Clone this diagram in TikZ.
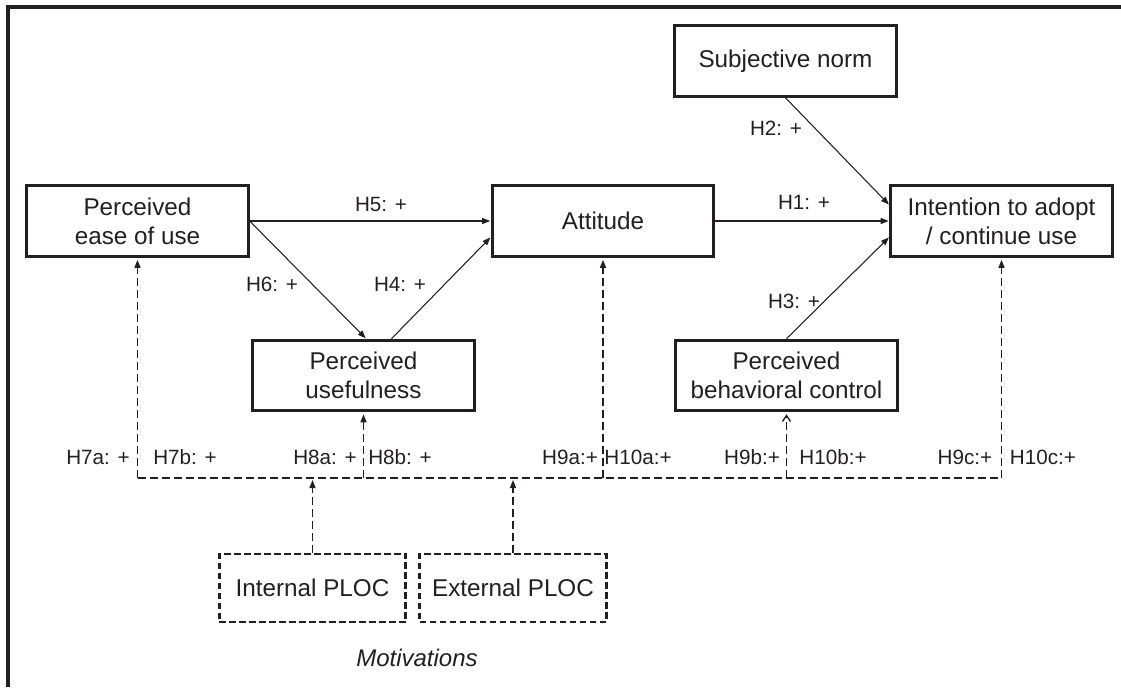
\documentclass[tikz,border=0pt]{standalone}
\usepackage{fontspec}
\setmainfont{Liberation Sans}
\usetikzlibrary{arrows.meta}
\definecolor{ink}{HTML}{231F20}
\begin{document}
\begin{tikzpicture}[x=0.75pt,y=-0.75pt,
  every node/.style={text=ink},
  box/.style={draw=ink, line width=2.2pt, minimum width=166pt, minimum height=53pt, inner sep=0pt, align=center, font=\fontsize{18.2pt}{21.5pt}\selectfont},
  dbox/.style={draw=ink, line width=2.2pt, dash pattern=on 5pt off 2.5pt, minimum width=140pt, minimum height=51pt, inner sep=0pt, align=center, font=\fontsize{18.2pt}{21.5pt}\selectfont},
  lab/.style={font=\fontsize{15.5pt}{18pt}\selectfont, inner sep=0pt},
  arr/.style={draw=ink, line width=0.8pt, -{Triangle[length=6pt,width=4.5pt]}, shorten >=0.5pt},
  dline/.style={draw=ink, line width=1pt, dash pattern=on 6pt off 3pt},
  darr/.style={dline, -{Triangle[length=6pt,width=4.5pt]}, shorten >=1.5pt},
  darrb/.style={dline, -{Straight Barb[length=4.5pt,width=6pt,line width=1pt]}, shorten >=1.5pt},
]
\useasboundingbox (0,0) rectangle (1121,687);
% frame
\draw[ink, line width=2.6pt, line join=miter] (8,687) -- (8,7) -- (1121,7);

% boxes
\node[box] (peou) at (137.5,221) {Perceived\\ease of use};
\node[box] (att)  at (603,221) {Attitude};
\node[box] (int)  at (1001.5,221) {Intention to adopt\\/ continue use};
\node[box] (sn)   at (785.5,61) {Subjective norm};
\node[box] (pu)   at (363.5,375.5) {Perceived\\usefulness};
\node[box] (pbc)  at (786.5,375.5) {Perceived\\behavioral control};
\node[dbox] (iploc) at (312.5,588) {Internal PLOC};
\node[dbox] (eploc) at (513,588) {External PLOC};
\node[font=\fontsize{18pt}{21pt}\selectfont\itshape, inner sep=0pt] (motiv) at (417,658) {Motivations};

% solid connectors
\draw[arr] (peou.east) -- (att.west);
\draw[arr] (peou.east) -- ([xshift=2pt]pu.north);
\draw[arr] ([xshift=21pt]pu.north) -- ([yshift=-12pt]att.west);
\draw[arr] (att.east) -- (int.west);
\draw[arr] (sn.south) -- ([yshift=12pt]int.west);
\draw[arr] (pbc.north) -- ([yshift=-12pt]int.west);

% solid labels
\node[lab] (l5) at (381,204) {H5: +};
\node[lab] (l6) at (272,284) {H6: +};
\node[lab] (l4) at (400,284) {H4: +};
\node[lab] (l2) at (776,128) {H2: +};
\node[lab] (l1) at (804,202) {H1: +};
\node[lab] (l3) at (794,301) {H3: +};

% dashed bus
\coordinate (busy) at (0,478);
\draw[dline] (peou.south |- busy) -- (int.south |- busy);
\draw[darr] (peou.south |- busy) -- (peou.south);
\draw[darr] (pu.south |- busy) -- (pu.south);
\draw[darr] (att.south |- busy) -- (att.south);
\draw[darrb] (pbc.south |- busy) -- (pbc.south);
\draw[darr] (int.south |- busy) -- (int.south);
\draw[darr] (iploc.north) -- (iploc.north |- busy);
\draw[darr] (eploc.north) -- (eploc.north |- busy);

% dashed labels
\node[lab] (l7a) at (98,457) {H7a: +};
\node[lab] (l7b) at (185,457) {H7b: +};
\node[lab] (l8a) at (325,457) {H8a: +};
\node[lab] (l8b) at (400,457) {H8b: +};
\node[lab] (l9a) at (570,457) {H9a:+};
\node[lab] (l10a) at (638,457) {H10a:+};
\node[lab] (l9b) at (752,457) {H9b:+};
\node[lab] (l10b) at (833,457) {H10b:+};
\node[lab] (l9c) at (965,457) {H9c:+};
\node[lab] (l10c) at (1043,457) {H10c:+};
\end{tikzpicture}
\end{document}
